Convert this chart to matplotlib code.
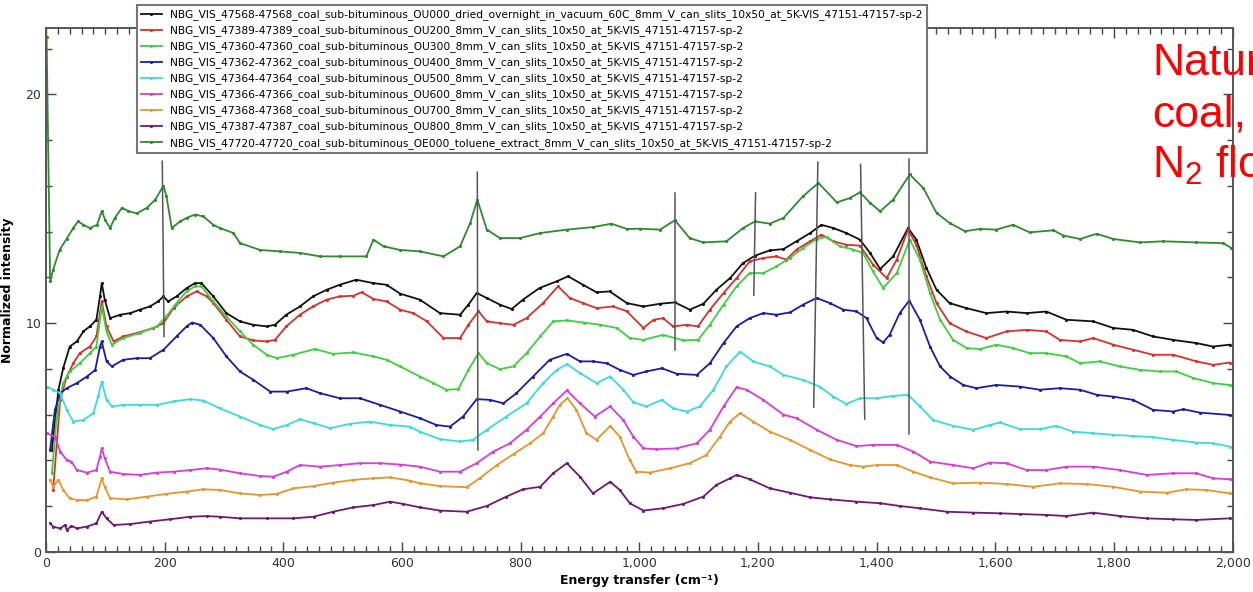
import matplotlib
matplotlib.use("Agg")
import matplotlib.pyplot as plt
from matplotlib.ticker import MultipleLocator, FuncFormatter

plt.rcParams['mathtext.fontset'] = 'custom'
plt.rcParams['mathtext.rm'] = 'Liberation Sans'
plt.rcParams['mathtext.default'] = 'rm'

# --- spectra (energy transfer in cm-1, normalized intensity) ---
ou000_x = [10, 21, 29, 40, 52, 63, 74, 85, 91, 94, 99, 108, 125, 142, 158, 175, 189, 198, 206, 220,
           237, 251, 262, 282, 304, 327, 349, 372, 386, 405, 428, 450, 473, 495, 523, 552, 574, 597, 630, 664,
           698, 712, 726, 743, 765, 785, 804, 832, 861, 880, 905, 928, 950, 979, 1007, 1035, 1060, 1085, 1108, 1130,
           1153, 1175, 1195, 1220, 1243, 1265, 1288, 1307, 1327, 1349, 1372, 1389, 1406, 1428, 1453, 1467, 1484, 1501, 1523, 1551,
           1585, 1619, 1653, 1686, 1720, 1765, 1799, 1832, 1866, 1900, 1939, 1967, 1995]
ou000_y = [4.46, 7.09, 8.03, 8.98, 9.2, 9.64, 9.86, 10.15, 11.17, 11.75, 11.03, 10.22, 10.37, 10.44, 10.59, 10.73, 10.95, 11.17, 10.95, 11.17,
           11.53, 11.75, 11.75, 11.17, 10.44, 10.08, 9.93, 9.86, 9.93, 10.37, 10.73, 11.17, 11.46, 11.68, 11.9, 11.75, 11.68, 11.29, 11.03, 10.44,
           10.37, 10.81, 11.32, 11.1, 10.81, 10.62, 11.03, 11.54, 11.83, 12.05, 11.68, 11.35, 11.39, 10.88, 10.73, 10.85, 10.91, 10.59, 10.85, 11.46,
           11.97, 12.63, 12.95, 13.18, 13.24, 13.58, 13.94, 14.3, 14.16, 13.94, 13.65, 13.07, 12.37, 12.92, 14.16, 13.65, 12.41, 11.46, 10.88, 10.66,
           10.44, 10.51, 10.44, 10.51, 10.15, 10.08, 9.79, 9.71, 9.42, 9.27, 9.13, 8.98, 9.06]

ou200_x = [12, 24, 35, 46, 57, 74, 85, 94, 102, 114, 130, 153, 181, 198, 215, 237, 254, 271, 282, 304,
           327, 349, 372, 386, 405, 428, 450, 473, 495, 518, 532, 552, 574, 597, 619, 642, 670, 698, 712, 729,
           743, 765, 788, 810, 838, 863, 883, 905, 928, 956, 979, 1007, 1024, 1040, 1057, 1080, 1099, 1119, 1142, 1164,
           1186, 1209, 1231, 1248, 1265, 1288, 1307, 1327, 1349, 1372, 1394, 1417, 1434, 1453, 1467, 1484, 1501, 1523, 1551, 1585,
           1619, 1653, 1686, 1709, 1743, 1765, 1799, 1832, 1866, 1900, 1939, 1967, 1995]
ou200_y = [2.71, 6.65, 7.67, 8.25, 8.69, 8.98, 9.42, 10.95, 9.86, 9.2, 9.42, 9.57, 9.79, 10.0, 10.66, 11.17, 11.39, 11.17, 10.88, 10.15,
           9.42, 9.25, 9.2, 9.27, 9.86, 10.37, 10.73, 11.03, 11.17, 11.2, 11.35, 11.06, 10.95, 10.59, 10.44, 10.08, 9.35, 9.35, 9.93, 10.52,
           10.08, 10.0, 9.93, 10.22, 10.88, 11.61, 11.1, 10.88, 10.66, 10.73, 10.52, 9.79, 10.15, 10.22, 9.86, 9.93, 9.86, 10.59, 11.32, 11.97,
           12.7, 12.85, 12.92, 12.78, 13.22, 13.58, 13.87, 13.58, 13.43, 13.39, 12.56, 11.97, 12.78, 14.09, 13.43, 12.05, 10.88, 10.0, 9.64, 9.35,
           9.64, 9.71, 9.64, 9.27, 9.2, 9.35, 9.06, 8.84, 8.62, 8.62, 8.33, 8.18, 8.28]

ou300_x = [10, 18, 29, 40, 57, 74, 85, 94, 102, 111, 130, 158, 187, 203, 220, 237, 251, 262, 282, 304,
           327, 349, 372, 389, 417, 453, 484, 518, 552, 574, 597, 630, 653, 675, 695, 712, 729, 743, 765, 788,
           810, 833, 855, 878, 906, 934, 962, 984, 1007, 1040, 1074, 1099, 1119, 1142, 1164, 1186, 1209, 1231, 1254, 1276,
           1299, 1316, 1338, 1361, 1377, 1394, 1411, 1434, 1456, 1473, 1490, 1507, 1529, 1552, 1574, 1602, 1630, 1658, 1686, 1720,
           1743, 1776, 1810, 1844, 1877, 1905, 1934, 1967, 1995]
ou300_y = [3.44, 5.92, 7.38, 7.89, 8.25, 8.69, 8.98, 10.73, 9.64, 9.06, 9.35, 9.57, 9.86, 10.3, 10.88, 11.39, 11.61, 11.61, 10.95, 10.3,
           9.64, 9.06, 8.62, 8.47, 8.62, 8.87, 8.66, 8.72, 8.55, 8.4, 8.11, 7.67, 7.38, 7.09, 7.12, 7.96, 8.69, 8.25, 7.99, 8.11,
           8.69, 9.42, 10.08, 10.12, 10.03, 9.93, 9.79, 9.35, 9.27, 9.49, 9.25, 9.27, 9.93, 10.81, 11.61, 12.19, 12.19, 12.48, 12.85, 13.29,
           13.68, 13.77, 13.36, 13.22, 13.07, 12.26, 11.54, 12.19, 13.65, 12.78, 11.32, 10.15, 9.27, 8.91, 8.87, 9.06, 8.91, 8.69, 8.69, 8.55,
           8.25, 8.33, 8.11, 7.96, 7.89, 7.89, 7.6, 7.38, 7.3]

ou400_x = [7, 15, 24, 35, 52, 69, 83, 91, 94, 102, 111, 130, 153, 175, 198, 220, 237, 246, 260, 282,
           304, 327, 349, 378, 406, 439, 462, 495, 529, 563, 597, 630, 658, 681, 703, 726, 748, 771, 793, 821,
           849, 878, 900, 922, 945, 967, 990, 1012, 1038, 1063, 1097, 1119, 1142, 1164, 1186, 1209, 1231, 1254, 1276, 1299,
           1321, 1344, 1366, 1383, 1400, 1411, 1422, 1439, 1455, 1473, 1490, 1507, 1524, 1546, 1568, 1602, 1641, 1675, 1709, 1743,
           1771, 1799, 1832, 1866, 1900, 1917, 1945, 1995]
ou400_y = [4.46, 6.21, 6.94, 7.16, 7.38, 7.67, 7.96, 8.98, 9.2, 8.33, 8.11, 8.4, 8.47, 8.47, 8.84, 9.42, 9.86, 10.03, 9.93, 9.35,
           8.55, 7.89, 7.53, 7.01, 7.01, 7.16, 6.94, 6.72, 6.72, 6.43, 6.14, 5.85, 5.55, 5.48, 5.92, 6.68, 6.65, 6.5, 6.94, 7.67,
           8.4, 8.66, 8.33, 8.33, 8.25, 7.96, 7.74, 7.89, 8.03, 7.79, 7.74, 8.25, 9.13, 9.86, 10.22, 10.44, 10.37, 10.47, 10.81, 11.1,
           10.88, 10.59, 10.52, 10.22, 9.35, 9.16, 9.49, 10.44, 10.99, 10.15, 8.98, 8.11, 7.67, 7.3, 7.16, 7.3, 7.23, 7.09, 7.16, 7.09,
           6.87, 6.79, 6.65, 6.21, 6.14, 6.24, 6.09, 5.99]

ou500_x = [1, 12, 24, 35, 46, 63, 80, 88, 94, 102, 111, 130, 158, 187, 215, 243, 265, 293, 327, 361,
           383, 406, 428, 451, 479, 512, 546, 580, 613, 630, 664, 698, 720, 743, 776, 810, 838, 861, 878, 900,
           928, 951, 973, 990, 1012, 1038, 1057, 1080, 1102, 1125, 1147, 1170, 1192, 1220, 1243, 1276, 1304, 1327, 1349, 1372,
           1400, 1428, 1453, 1473, 1495, 1529, 1563, 1591, 1608, 1641, 1675, 1703, 1731, 1765, 1799, 1832, 1866, 1900, 1939, 1967,
           1995]
ou500_y = [7.23, 7.09, 6.94, 6.21, 5.7, 5.77, 6.07, 6.8, 7.45, 6.65, 6.36, 6.43, 6.43, 6.43, 6.58, 6.68, 6.62, 6.28, 5.92, 5.55,
           5.37, 5.55, 5.8, 5.63, 5.41, 5.6, 5.7, 5.55, 5.48, 5.26, 4.93, 4.83, 4.9, 5.34, 5.92, 6.5, 7.38, 7.96, 8.21, 7.82,
           7.38, 7.67, 7.09, 6.55, 6.36, 6.65, 6.28, 6.14, 6.36, 7.09, 8.11, 8.76, 8.33, 8.11, 7.74, 7.52, 7.23, 6.79, 6.47, 6.72,
           6.72, 6.82, 6.87, 6.36, 5.77, 5.51, 5.34, 5.55, 5.66, 5.37, 5.37, 5.51, 5.26, 5.19, 5.12, 5.07, 5.02, 4.9, 4.78, 4.75,
           4.61]

ou600_x = [1, 15, 24, 35, 43, 52, 69, 85, 91, 94, 99, 108, 130, 158, 187, 215, 243, 271, 293, 327,
           361, 383, 406, 428, 462, 495, 529, 563, 597, 630, 664, 698, 726, 754, 782, 810, 833, 855, 878, 900,
           925, 951, 973, 990, 1007, 1029, 1063, 1097, 1119, 1142, 1164, 1181, 1209, 1243, 1265, 1299, 1333, 1366, 1394, 1434,
           1462, 1490, 1529, 1563, 1591, 1619, 1653, 1686, 1720, 1765, 1810, 1855, 1900, 1939, 1967, 1995]
ou600_y = [5.19, 5.04, 4.39, 4.02, 3.95, 3.58, 3.47, 3.58, 4.17, 4.53, 4.1, 3.51, 3.41, 3.37, 3.47, 3.51, 3.58, 3.66, 3.6, 3.44,
           3.32, 3.29, 3.51, 3.8, 3.73, 3.8, 3.88, 3.88, 3.82, 3.73, 3.51, 3.51, 3.88, 4.39, 4.75, 5.34, 5.92, 6.5, 7.06, 6.5,
           5.92, 6.36, 5.77, 5.04, 4.53, 4.49, 4.53, 4.75, 5.34, 6.36, 7.2, 7.09, 6.65, 6.0, 5.85, 5.34, 4.9, 4.63, 4.68, 4.68,
           4.39, 3.95, 3.8, 3.66, 3.91, 3.88, 3.58, 3.58, 3.73, 3.73, 3.58, 3.37, 3.44, 3.44, 3.22, 3.18]

ou700_x = [7, 12, 21, 29, 40, 52, 69, 85, 94, 99, 108, 136, 170, 203, 237, 265, 293, 327, 361, 389,
           417, 451, 484, 518, 552, 580, 613, 630, 664, 709, 731, 760, 788, 816, 838, 855, 866, 879, 894, 911,
           928, 951, 967, 984, 995, 1018, 1052, 1085, 1113, 1136, 1153, 1170, 1192, 1220, 1254, 1288, 1321, 1355, 1377, 1400,
           1434, 1462, 1490, 1529, 1574, 1619, 1664, 1709, 1754, 1799, 1844, 1889, 1922, 1956, 1995]
ou700_y = [3.15, 2.85, 3.15, 2.71, 2.35, 2.27, 2.27, 2.42, 3.22, 2.85, 2.35, 2.3, 2.42, 2.54, 2.64, 2.74, 2.71, 2.56, 2.49, 2.54,
           2.78, 2.88, 3.03, 3.15, 3.22, 3.26, 3.12, 3.0, 2.88, 2.83, 3.22, 3.8, 4.28, 4.75, 5.19, 5.92, 6.43, 6.72, 6.21, 5.19,
           4.9, 5.51, 5.04, 4.02, 3.51, 3.47, 3.66, 3.88, 4.24, 5.04, 5.7, 6.07, 5.7, 5.26, 4.9, 4.46, 4.05, 3.8, 3.73, 3.8,
           3.8, 3.51, 3.26, 3.0, 3.03, 2.97, 2.85, 3.0, 2.97, 2.85, 2.64, 2.59, 2.74, 2.71, 2.56]

ou800_x = [7, 12, 24, 32, 35, 43, 52, 69, 85, 94, 102, 114, 142, 175, 209, 243, 271, 293, 327, 372,
           417, 451, 484, 518, 552, 580, 602, 630, 664, 709, 743, 776, 804, 833, 855, 878, 900, 922, 951, 967,
           984, 1007, 1040, 1074, 1108, 1130, 1153, 1164, 1186, 1220, 1254, 1288, 1321, 1366, 1406, 1439, 1473, 1518, 1563, 1608,
           1641, 1686, 1720, 1765, 1810, 1855, 1900, 1939, 1995]
ou800_y = [1.25, 1.11, 1.03, 1.18, 0.96, 1.14, 1.03, 1.11, 1.25, 1.76, 1.47, 1.18, 1.22, 1.33, 1.43, 1.54, 1.57, 1.54, 1.47, 1.47,
           1.47, 1.54, 1.76, 1.95, 2.05, 2.2, 2.1, 1.95, 1.81, 1.76, 2.01, 2.42, 2.74, 2.85, 3.44, 3.88, 3.29, 2.56, 3.07, 2.71,
           2.13, 1.81, 1.91, 2.1, 2.42, 2.93, 3.22, 3.37, 3.18, 2.78, 2.59, 2.39, 2.3, 2.2, 2.13, 2.01, 1.91, 1.76, 1.72, 1.69,
           1.66, 1.62, 1.57, 1.72, 1.57, 1.47, 1.43, 1.4, 1.47]

oe000_x = [1, 7, 12, 23, 35, 46, 54, 63, 74, 86, 94, 100, 108, 116, 128, 139, 153, 170, 184, 198,
           203, 212, 226, 237, 251, 265, 282, 293, 316, 327, 361, 394, 428, 462, 495, 540, 552, 569, 597, 630,
           670, 698, 715, 727, 743, 765, 799, 833, 878, 922, 953, 979, 1001, 1035, 1060, 1085, 1108, 1147, 1175, 1195,
           1220, 1243, 1276, 1302, 1333, 1355, 1372, 1389, 1406, 1428, 1456, 1479, 1501, 1523, 1549, 1574, 1602, 1630, 1658, 1698,
           1715, 1743, 1771, 1799, 1844, 1883, 1939, 1984, 1998]
oe000_y = [22.5, 11.83, 12.34, 13.2, 13.7, 14.16, 14.45, 14.3, 14.16, 14.3, 14.9, 14.5, 14.16, 14.6, 15.04, 14.9, 14.8, 15.04, 15.4, 16.0,
           15.55, 14.16, 14.45, 14.6, 14.75, 14.67, 14.3, 14.16, 13.94, 13.5, 13.2, 13.14, 13.07, 12.92, 12.92, 12.92, 13.65, 13.36, 13.2, 13.14,
           12.92, 13.36, 14.38, 15.4, 14.09, 13.72, 13.72, 13.94, 14.09, 14.2, 14.35, 14.12, 14.13, 14.09, 14.5, 13.72, 13.53, 13.58, 14.16, 14.45,
           14.35, 14.6, 15.55, 16.13, 15.28, 15.47, 15.72, 15.26, 14.89, 15.4, 16.5, 15.9, 14.82, 14.38, 14.02, 14.12, 14.09, 14.3, 13.97, 14.06,
           13.83, 13.68, 13.91, 13.68, 13.53, 13.58, 13.53, 13.5, 13.29]

labels = [
    "NBG_VIS_47568-47568_coal_sub-bituminous_OU000_dried_overnight_in_vacuum_60C_8mm_V_can_slits_10x50_at_5K-VIS_47151-47157-sp-2",
    "NBG_VIS_47389-47389_coal_sub-bituminous_OU200_8mm_V_can_slits_10x50_at_5K-VIS_47151-47157-sp-2",
    "NBG_VIS_47360-47360_coal_sub-bituminous_OU300_8mm_V_can_slits_10x50_at_5K-VIS_47151-47157-sp-2",
    "NBG_VIS_47362-47362_coal_sub-bituminous_OU400_8mm_V_can_slits_10x50_at_5K-VIS_47151-47157-sp-2",
    "NBG_VIS_47364-47364_coal_sub-bituminous_OU500_8mm_V_can_slits_10x50_at_5K-VIS_47151-47157-sp-2",
    "NBG_VIS_47366-47366_coal_sub-bituminous_OU600_8mm_V_can_slits_10x50_at_5K-VIS_47151-47157-sp-2",
    "NBG_VIS_47368-47368_coal_sub-bituminous_OU700_8mm_V_can_slits_10x50_at_5K-VIS_47151-47157-sp-2",
    "NBG_VIS_47387-47387_coal_sub-bituminous_OU800_8mm_V_can_slits_10x50_at_5K-VIS_47151-47157-sp-2",
    "NBG_VIS_47720-47720_coal_sub-bituminous_OE000_toluene_extract_8mm_V_can_slits_10x50_at_5K-VIS_47151-47157-sp-2",
]
colors = ["#111111", "#d9302c", "#3fcf3f", "#1c1ca8", "#3cdada",
          "#d83cd8", "#e8952c", "#6e1a70", "#2f8a2f"]

# guide lines marking the main bands: (x bottom, x top, y bottom, y top)
band_x0 = [199, 728, 1060, 1193, 1294, 1380, 1455]
band_x1 = [196, 727, 1060, 1196, 1301, 1373, 1455]
band_y0 = [9.42, 4.46, 8.84, 11.22, 6.33, 5.81, 5.16]
band_y1 = [17.08, 16.6, 15.7, 15.7, 17.04, 16.94, 17.19]

series = [(ou000_x, ou000_y), (ou200_x, ou200_y), (ou300_x, ou300_y),
          (ou400_x, ou400_y), (ou500_x, ou500_y), (ou600_x, ou600_y),
          (ou700_x, ou700_y), (ou800_x, ou800_y), (oe000_x, oe000_y)]

fig = plt.figure(figsize=(12.53, 5.92), dpi=100)
ax = fig.add_axes([0.0367, 0.0676, 0.947, 0.885])

for (xs, ys), c, lab in zip(series, colors, labels):
    ax.plot(xs, ys, color=c, lw=1.3, marker='.', ms=2.5, label=lab)

for a, b, c0, c1 in zip(band_x0, band_x1, band_y0, band_y1):
    ax.plot([a, b], [c0, c1], color='#555555', lw=1.1, zorder=5)

ax.set_xlim(0, 2000)
ax.set_ylim(0, 22.9)
ax.xaxis.set_major_locator(MultipleLocator(200))
ax.xaxis.set_minor_locator(MultipleLocator(20))
ax.yaxis.set_major_locator(MultipleLocator(10))
ax.yaxis.set_minor_locator(MultipleLocator(2))
ax.xaxis.set_major_formatter(FuncFormatter(lambda v, p: f"{v:,.0f}"))
ax.tick_params(which='both', direction='in', top=True, right=True,
               color='#444444', labelsize=9, labelcolor='#333333')
ax.tick_params(which='major', length=7, width=1)
ax.tick_params(which='minor', length=4, width=1)
for s in ax.spines.values():
    s.set_color('#555555')
    s.set_linewidth(1.4)

ax.set_xlabel("Energy transfer (cm⁻¹)", fontsize=9, fontweight='bold', labelpad=3)
ax.set_ylabel("Normalized intensity", fontsize=9, fontweight='bold')
ax.yaxis.set_label_coords(-0.027, 0.5)

leg = ax.legend(loc='upper left', bbox_to_anchor=(0.0767, 1.044), borderaxespad=0,
                fontsize=7.7, labelspacing=0.48, handlelength=1.9, handletextpad=0.8,
                numpoints=1, fancybox=False, framealpha=1, borderpad=0.4)
leg.get_frame().set_edgecolor('#777777')
leg.get_frame().set_linewidth(1.5)
leg.set_zorder(10)

for txt, yb in zip(["Natural", "coal,", "N$_2$ flow"], [0.8733, 0.7855, 0.6993]):
    fig.text(0.9194, yb, txt, color='red', fontsize=32, family='Liberation Sans',
             va='baseline', ha='left')

fig.savefig("out.png", dpi=100)
